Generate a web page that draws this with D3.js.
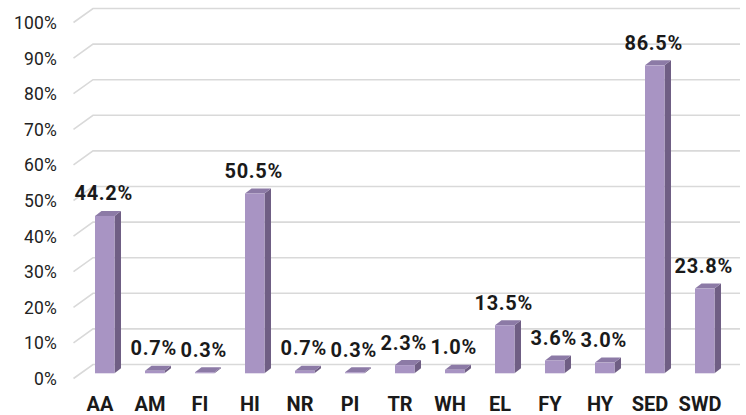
<!DOCTYPE html>
<html><head><meta charset="utf-8">
<script src="https://cdn.jsdelivr.net/npm/d3@7/dist/d3.min.js"></script>
<style>
html,body{margin:0;padding:0;background:#fff;}
svg{display:block;font-family:Roboto,"Noto Sans",Arial,sans-serif;}
</style></head>
<body>
<svg id="chart" width="746" height="415"></svg>
<script>
const categories = ["AA","AM","FI","HI","NR","PI","TR","WH","EL","FY","HY","SED","SWD"];
const values = [44.2,0.7,0.3,50.5,0.7,0.3,2.3,1.0,13.5,3.6,3.0,86.5,23.8];
const valueLabels = ["44.2%","0.7%","0.3%","50.5%","0.7%","0.3%","2.3%","1.0%","13.5%","3.6%","3.0%","86.5%","23.8%"];
const yTicks = [0,10,20,30,40,50,60,70,80,90,100];

const svg = d3.select("#chart");
const x = d3.scalePoint().domain(categories).range([100, 700]);
const y = d3.scaleLinear().domain([0, 100]).range([364.5, 8.5]); // back wall
const depthDX = 19.5, depthDY = -14;   // floor depth
const barFrontDY = 8.8;                // bar front plane below back wall
const barOffX = -5, barW = 19.5;       // front face relative to category centre
const topDX = 6.5, topDY = -5;         // bar depth

// gridlines: back wall + side diagonal
const grid = svg.append("g").attr("stroke", "#d9d9d9").attr("stroke-width", 1.6).attr("fill", "none");
grid.selectAll("path").data(yTicks).join("path")
  .attr("d", d => `M${93 - depthDX},${y(d) - depthDY} L93,${y(d)} L740,${y(d)}`);

// y labels
svg.append("g").selectAll("text").data(yTicks).join("text")
  .attr("x", 57).attr("y", d => y(d) + 20.5)
  .attr("text-anchor", "end")
  .attr("font-size", 17.5).attr("font-weight", 400).attr("fill", "#222")
  .attr("letter-spacing", 0.2)
  .text(d => d + "%");

// bars
const bars = svg.append("g").selectAll("g").data(categories).join("g");
bars.each(function(c, i) {
  const g = d3.select(this);
  const x0 = x(c) + barOffX, x1 = x0 + barW;
  const yb = y(0) + barFrontDY, yt = y(values[i]) + barFrontDY;
  g.append("path").attr("fill", "#6f5e84")
    .attr("d", `M${x1},${yt} L${x1 + topDX},${yt + topDY} L${x1 + topDX},${yb + topDY} L${x1},${yb}Z`);
  g.append("path").attr("fill", "#8c7aa6")
    .attr("d", `M${x0},${yt} L${x1},${yt} L${x1 + topDX},${yt + topDY} L${x0 + topDX},${yt + topDY}Z`);
  g.append("rect").attr("fill", "#a894c3")
    .attr("x", x0).attr("y", yt).attr("width", barW).attr("height", Math.max(0, yb - yt));
});

// value labels
svg.append("g").selectAll("text").data(categories).join("text")
  .attr("x", c => x(c) + barOffX + barW / 2 - 1)
  .attr("y", (c, i) => y(values[i]) + barFrontDY - 15.5)
  .attr("text-anchor", "middle")
  .attr("font-size", 20).attr("font-weight", 700).attr("fill", "#1a1a1a")
  .attr("letter-spacing", 0.7)
  .text((c, i) => valueLabels[i]);

// category labels
svg.append("g").selectAll("text").data(categories).join("text")
  .attr("x", c => x(c)).attr("y", 411)
  .attr("text-anchor", "middle")
  .attr("font-size", 20).attr("font-weight", 700).attr("fill", "#1a1a1a")
  .text(c => c);
</script>
</body></html>
